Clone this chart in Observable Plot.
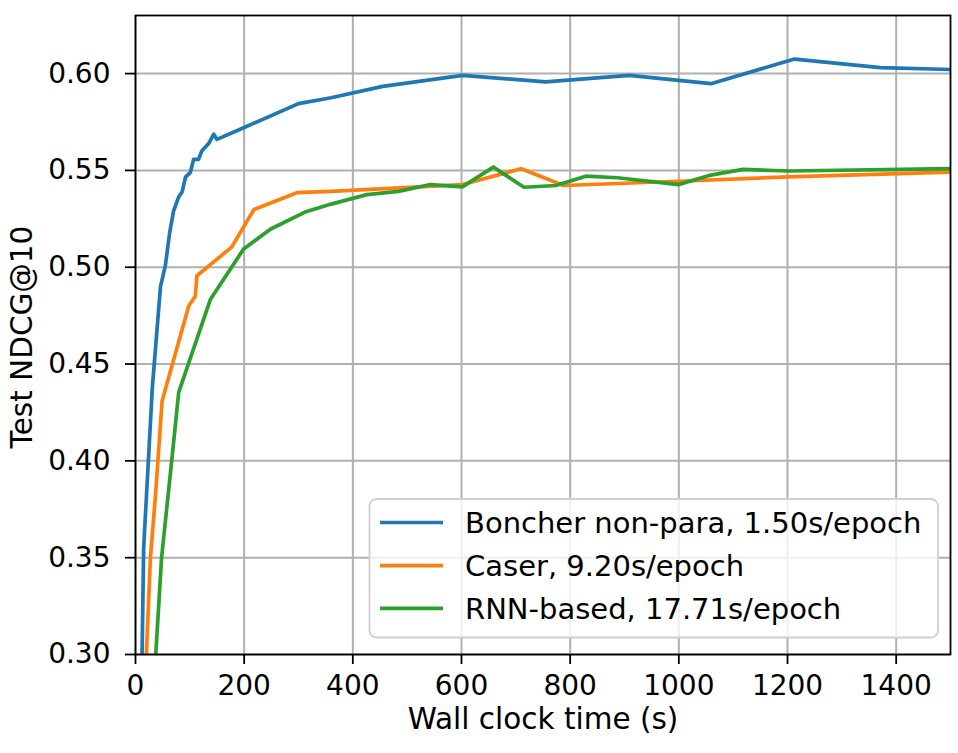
<!DOCTYPE html>
<html>
<head>
<meta charset="utf-8">
<script src="https://cdn.jsdelivr.net/npm/d3@7"></script>
<script src="https://cdn.jsdelivr.net/npm/@observablehq/plot@0.6"></script>
<style>
  html, body { margin: 0; padding: 0; background: #fff; }
  #chart { width: 958px; height: 753px; }
</style>
</head>
<body>
<div id="chart"></div>
<script>
const seriesNames = ["Boncher non-para, 1.50s/epoch", "Caser, 9.20s/epoch", "RNN-based, 17.71s/epoch"];
const seriesColors = ["#1f77b4", "#ff7f0e", "#2ca02c"];

const boncherX = [10, 15, 31, 46, 55, 63, 70, 79, 86, 92, 101, 107, 116, 122, 135, 144, 150, 199, 300, 360, 455, 602, 755, 909, 1059, 1213, 1371, 1500];
const boncherY = [0.26, 0.355, 0.438, 0.490, 0.501, 0.518, 0.529, 0.536, 0.539, 0.5465, 0.549, 0.5557, 0.5557, 0.560, 0.564, 0.5687, 0.566, 0.572, 0.5845, 0.5875, 0.5934, 0.5991, 0.5957, 0.5991, 0.5948, 0.6075, 0.6031, 0.6021];

const caserX = [17, 27.5, 37, 49, 67, 98, 110, 113, 177, 218, 297, 360, 602, 710, 788, 1000, 1202, 1500];
const caserY = [0.28, 0.35, 0.383, 0.431, 0.449, 0.480, 0.485, 0.4956, 0.5104, 0.5298, 0.5385, 0.5392, 0.5427, 0.5509, 0.5422, 0.5444, 0.5467, 0.5491];

const rnnX = [33, 48, 67, 79.5, 138, 199, 248, 312, 360, 426, 484, 543, 601.5, 658.6, 715, 773.6, 828.6, 887, 1000, 1059, 1118, 1202, 1500];
const rnnY = [0.28, 0.35, 0.401, 0.4354, 0.4835, 0.5094, 0.5196, 0.5285, 0.5326, 0.5375, 0.5392, 0.5427, 0.5415, 0.5517, 0.5413, 0.5422, 0.5470, 0.5462, 0.5427, 0.5476, 0.5505, 0.5497, 0.5509];

const xTicks = [0, 200, 400, 600, 800, 1000, 1200, 1400];
const yTicks = [0.30, 0.35, 0.40, 0.45, 0.50, 0.55, 0.60];

const xLabel = "Wall clock time (s)";
const yLabel = "Test NDCG@10";

const seriesXs = [boncherX, caserX, rnnX];
const seriesYs = [boncherY, caserY, rnnY];
const data = [];
seriesNames.forEach((name, i) => {
  seriesXs[i].forEach((x, j) => data.push({series: name, x, y: seriesYs[i][j]}));
});

const FONT = "DejaVu Sans";
const TICK_FS = 28;
const LABEL_FS = 29.5;
const LEGEND_FS = 29;
const LW = 3.7;

const svg = Plot.plot({
  width: 958,
  height: 753,
  marginLeft: 135,
  marginRight: 8,
  marginTop: 15,
  marginBottom: 99,
  style: {fontFamily: FONT, fontSize: TICK_FS + "px", background: "#fff", color: "#000"},
  x: {domain: [0, 1500]},
  y: {domain: [0.30, 0.63]},
  color: {domain: seriesNames, range: seriesColors},
  marks: [
    Plot.gridX(xTicks, {stroke: "#b0b0b0", strokeOpacity: 1, strokeWidth: 2}),
    Plot.gridY(yTicks, {stroke: "#b0b0b0", strokeOpacity: 1, strokeWidth: 2}),
    Plot.line(data, {x: "x", y: "y", z: "series", stroke: "series", strokeWidth: LW, clip: true, strokeLinejoin: "round"}),
    Plot.frame({stroke: "#000", strokeWidth: 1.8}),
    Plot.axisX({ticks: xTicks, tickSize: 10, tickPadding: 11, tickFormat: d => String(d), label: null, strokeWidth: 1.8, fontSize: TICK_FS}),
    Plot.axisY({ticks: yTicks, tickSize: 10, tickPadding: 15, tickFormat: d3.format(".2f"), label: null, strokeWidth: 1.8, fontSize: TICK_FS}),
    Plot.text([xLabel], {frameAnchor: "bottom", lineAnchor: "middle", textAnchor: "middle", dy: 65, fontSize: LABEL_FS, fill: "#000"}),
    Plot.text([yLabel], {frameAnchor: "left", lineAnchor: "middle", textAnchor: "middle", dx: -113, dy: 2, rotate: -90, fontSize: LABEL_FS, fill: "#000"})
  ]
});

// Legend inside plot (lower right), like matplotlib's
const g = d3.select(svg).append("g")
  .attr("font-family", FONT).attr("font-size", LEGEND_FS).attr("text-anchor", "start");
g.append("rect")
  .attr("x", 369.5).attr("y", 499).attr("width", 568.5).attr("height", 138.5)
  .attr("rx", 7).attr("ry", 7)
  .attr("fill", "#fff").attr("fill-opacity", 0.8)
  .attr("stroke", "#d0d0d0").attr("stroke-width", 1.8);
const rowY = [522.5, 565.7, 608.3];
seriesNames.forEach((name, i) => {
  g.append("line")
    .attr("x1", 380).attr("x2", 443).attr("y1", rowY[i]).attr("y2", rowY[i])
    .attr("stroke", seriesColors[i]).attr("stroke-width", LW);
  g.append("text")
    .attr("x", 465).attr("y", rowY[i]).attr("dy", "0.36em")
    .attr("text-anchor", "start")
    .attr("fill", "#000").text(name);
});

document.getElementById("chart").appendChild(svg);
</script>
</body>
</html>
